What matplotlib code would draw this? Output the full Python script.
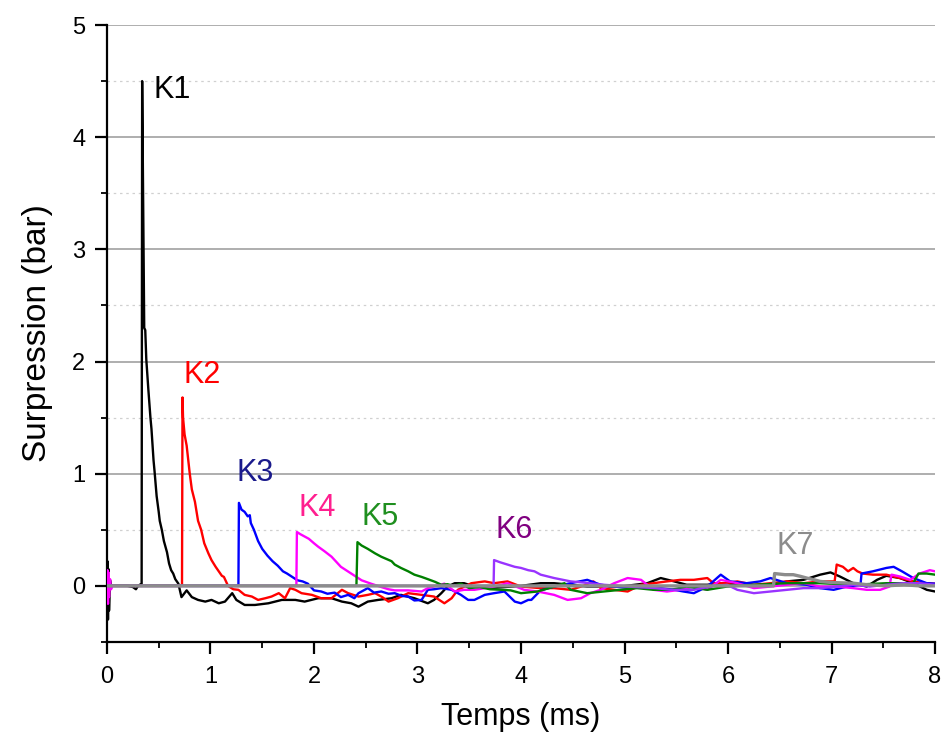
import matplotlib
matplotlib.use('Agg')
from matplotlib import pyplot as plt
from matplotlib.ticker import MultipleLocator

# (time ms, overpressure bar)
k1_pts = [(0, 0), (0.005, 0.22), (0.01, -0.3), (0.015, 0.15), (0.02, -0.22), (0.03, 0.05),
          (0.04, 0.0), (0.1, 0.0), (0.2, 0.0), (0.25, -0.01), (0.28, -0.03), (0.30, 0.0),
          (0.335, 0.02), (0.34, 4.5), (0.35, 3.4), (0.36, 2.3), (0.37, 2.28), (0.38, 2.02),
          (0.40, 1.75), (0.42, 1.5), (0.43, 1.4), (0.45, 1.12), (0.46, 1.02), (0.48, 0.8),
          (0.5, 0.66), (0.51, 0.58), (0.53, 0.5), (0.55, 0.4), (0.58, 0.3), (0.60, 0.2),
          (0.62, 0.14), (0.64, 0.11), (0.66, 0.06), (0.69, 0.02), (0.72, -0.1), (0.77, -0.04),
          (0.82, -0.1), (0.88, -0.125), (0.95, -0.14), (1.01, -0.125), (1.08, -0.155),
          (1.14, -0.14), (1.21, -0.065), (1.25, -0.125), (1.33, -0.17), (1.43, -0.17),
          (1.56, -0.155), (1.69, -0.125), (1.82, -0.125), (1.91, -0.14), (2.04, -0.11),
          (2.17, -0.11), (2.27, -0.14), (2.36, -0.155), (2.43, -0.185), (2.52, -0.14),
          (2.62, -0.125), (2.75, -0.11), (2.84, -0.08), (2.97, -0.11), (3.10, -0.155),
          (3.16, -0.125), (3.23, -0.065), (3.29, -0.006), (3.36, 0.024), (3.45, 0.024),
          (3.55, -0.006), (3.7, -0.02), (3.85, -0.01), (4.0, 0.0), (4.19, 0.024), (4.32, 0.024),
          (4.48, 0.01), (4.64, -0.006), (4.8, -0.006), (4.96, -0.006), (5.1, 0.01), (5.22, 0.024),
          (5.35, 0.07), (5.48, 0.04), (5.6, 0.01), (5.8, 0.01), (5.93, 0.024), (6.12, 0.01),
          (6.25, -0.006), (6.41, 0.01), (6.57, 0.04), (6.73, 0.054), (6.89, 0.1), (6.99, 0.12),
          (7.08, 0.084), (7.21, 0.024), (7.34, -0.006), (7.44, 0.054), (7.53, 0.09), (7.66, 0.07),
          (7.79, 0.024), (7.92, -0.035), (8.0, -0.05)]

k2_pts = [(0, 0), (0.725, 0), (0.73, 1.68), (0.735, 1.5), (0.75, 1.35), (0.77, 1.25), (0.80, 1.0),
          (0.82, 0.86), (0.85, 0.75), (0.88, 0.58), (0.91, 0.5), (0.94, 0.38), (0.98, 0.29),
          (1.01, 0.23), (1.05, 0.17), (1.08, 0.13), (1.11, 0.09), (1.13, 0.08), (1.17, 0.0),
          (1.22, -0.03), (1.27, -0.035), (1.33, -0.08), (1.40, -0.095), (1.46, -0.125),
          (1.53, -0.11), (1.59, -0.095), (1.66, -0.065), (1.72, -0.11), (1.77, -0.02),
          (1.82, -0.035), (1.88, -0.065), (1.98, -0.08), (2.07, -0.11), (2.17, -0.11),
          (2.27, -0.035), (2.33, -0.065), (2.43, -0.095), (2.52, -0.08), (2.59, -0.065),
          (2.66, -0.1), (2.72, -0.14), (2.81, -0.11), (2.91, -0.065), (3.04, -0.08),
          (3.16, -0.095), (3.26, -0.155), (3.33, -0.11), (3.39, -0.035), (3.52, 0.024),
          (3.65, 0.04), (3.74, 0.024), (3.87, 0.04), (4.0, -0.006), (4.19, -0.02), (4.32, -0.02),
          (4.48, -0.035), (4.6, 0.0), (4.7, 0.04), (4.77, -0.02), (4.9, -0.035), (5.03, -0.05),
          (5.16, 0.01), (5.28, 0.024), (5.41, 0.04), (5.54, 0.054), (5.67, 0.054), (5.8, 0.07),
          (5.86, 0.024), (5.99, 0.024), (6.09, 0.04), (6.25, 0.01), (6.41, 0.024), (6.57, 0.04),
          (6.73, 0.024), (6.89, 0.04), (7.03, 0.04), (7.05, 0.19), (7.11, 0.17), (7.16, 0.13),
          (7.21, 0.16), (7.25, 0.13), (7.3, 0.11), (7.4, 0.1), (7.53, 0.1), (7.66, 0.07),
          (7.79, 0.04), (7.89, 0.024), (8.0, 0.02)]

k3_pts = [(0, 0), (1.27, 0), (1.275, 0.74), (1.30, 0.68), (1.33, 0.66), (1.36, 0.62), (1.38, 0.63),
          (1.39, 0.56), (1.42, 0.50), (1.46, 0.40), (1.50, 0.33), (1.55, 0.27), (1.60, 0.22),
          (1.65, 0.18), (1.70, 0.13), (1.74, 0.11), (1.79, 0.08), (1.84, 0.05), (1.89, 0.04),
          (1.94, 0.02), (2.0, -0.04), (2.07, -0.05), (2.13, -0.07), (2.2, -0.06), (2.26, -0.1),
          (2.33, -0.08), (2.39, -0.11), (2.43, -0.065), (2.52, -0.02), (2.58, -0.06),
          (2.65, -0.05), (2.72, -0.07), (2.78, -0.065), (2.85, -0.09), (2.91, -0.095),
          (2.97, -0.13), (3.04, -0.125), (3.1, -0.035), (3.16, -0.03), (3.23, -0.02),
          (3.33, -0.035), (3.42, -0.08), (3.49, -0.125), (3.55, -0.125), (3.65, -0.08),
          (3.74, -0.065), (3.84, -0.05), (3.94, -0.14), (4.0, -0.155), (4.07, -0.125),
          (4.1, -0.125), (4.19, -0.04), (4.32, -0.006), (4.48, 0.024), (4.64, 0.054),
          (4.77, 0.01), (4.9, -0.006), (5.06, -0.02), (5.22, -0.006), (5.35, -0.02),
          (5.48, -0.035), (5.57, -0.05), (5.67, -0.065), (5.8, -0.006), (5.93, 0.1), (6.02, 0.04),
          (6.18, 0.024), (6.31, 0.04), (6.41, 0.07), (6.57, 0.024), (6.76, 0.01), (6.89, -0.02),
          (7.02, -0.035), (7.15, -0.006), (7.28, 0.01), (7.29, 0.11), (7.4, 0.13), (7.53, 0.16),
          (7.6, 0.17), (7.68, 0.13), (7.79, 0.07), (7.92, 0.024), (8.0, 0.02)]

k4_pts = [(0, 0), (0.005, 0.14), (0.01, -0.16), (0.015, 0.12), (0.02, -0.1), (0.03, 0.06),
          (0.04, -0.03), (0.05, 0), (1.83, 0), (1.835, 0.48), (1.87, 0.46), (1.91, 0.44),
          (1.95, 0.42), (2.0, 0.38), (2.04, 0.35), (2.1, 0.31), (2.17, 0.26), (2.22, 0.21),
          (2.26, 0.17), (2.31, 0.14), (2.36, 0.11), (2.41, 0.08), (2.46, 0.05), (2.55, 0.02),
          (2.65, -0.01), (2.72, -0.03), (2.78, -0.04), (2.91, -0.04), (3.04, -0.05),
          (3.10, -0.02), (3.18, 0.0), (3.26, 0.02), (3.36, -0.05), (3.45, -0.035),
          (3.55, -0.035), (3.65, -0.02), (3.74, -0.006), (3.87, 0.024), (4.03, -0.035),
          (4.16, -0.05), (4.32, -0.08), (4.45, -0.125), (4.58, -0.11), (4.67, -0.065),
          (4.77, -0.035), (4.9, 0.024), (5.03, 0.07), (5.16, 0.054), (5.28, -0.035),
          (5.41, -0.05), (5.54, -0.035), (5.67, -0.006), (5.8, -0.035), (5.93, 0.054),
          (6.09, 0.024), (6.25, -0.02), (6.41, -0.006), (6.57, 0.01), (6.73, 0.024),
          (6.89, -0.006), (7.05, -0.006), (7.21, -0.02), (7.34, -0.035), (7.47, -0.035),
          (7.56, -0.006), (7.58, 0.1), (7.66, 0.084), (7.76, 0.054), (7.85, 0.11), (7.95, 0.14),
          (8.0, 0.13)]

k5_pts = [(0, 0), (2.41, 0), (2.42, 0.39), (2.46, 0.36), (2.52, 0.33), (2.59, 0.29), (2.65, 0.26),
          (2.70, 0.24), (2.75, 0.22), (2.78, 0.19), (2.84, 0.16), (2.91, 0.13), (2.97, 0.1),
          (3.04, 0.08), (3.1, 0.06), (3.17, 0.036), (3.23, 0.01), (3.29, 0.015), (3.35, 0.0),
          (3.42, 0.02), (3.5, -0.02), (3.6, -0.01), (3.7, -0.03), (3.81, -0.035), (3.9, -0.04),
          (4.0, -0.065), (4.16, -0.05), (4.32, -0.006), (4.42, 0.024), (4.48, -0.035),
          (4.64, -0.065), (4.8, -0.05), (4.96, -0.035), (5.12, -0.02), (5.28, -0.035),
          (5.45, -0.035), (5.6, -0.006), (5.8, -0.035), (5.99, -0.006), (6.25, 0.01),
          (6.57, 0.024), (6.89, 0.024), (7.21, 0.01), (7.53, 0.024), (7.79, 0.024), (7.84, 0.11),
          (7.92, 0.11), (8.0, 0.1)]

k6_pts = [(0, 0), (3.735, 0), (3.74, 0.23), (3.8, 0.21), (3.87, 0.19), (3.94, 0.17), (4.0, 0.16),
          (4.07, 0.14), (4.13, 0.13), (4.19, 0.1), (4.32, 0.07), (4.48, 0.04), (4.6, 0.03),
          (4.7, 0.02), (4.8, 0.01), (4.96, 0.0), (5.1, -0.01), (5.3, -0.02), (5.45, -0.035),
          (5.67, -0.035), (5.86, 0.0), (5.99, 0.01), (6.09, -0.035), (6.25, -0.065),
          (6.41, -0.05), (6.57, -0.035), (6.73, -0.02), (6.89, -0.02), (7.05, -0.006),
          (7.21, 0.01), (7.37, -0.006), (7.53, 0.01), (7.69, 0.024), (7.85, 0.024), (8.0, 0.01)]

k7_pts = [(0, 0), (6.44, 0), (6.45, 0.11), (6.55, 0.1), (6.63, 0.1), (6.7, 0.085), (6.76, 0.07),
          (6.83, 0.055), (6.89, 0.04), (7.0, 0.03), (7.21, 0.024), (7.35, 0.01), (7.53, 0.0),
          (7.7, 0.01), (7.85, 0.0), (8.0, 0.0)]

names = ['K1', 'K2', 'K3', 'K4', 'K5', 'K6', 'K7']
series = [k1_pts, k2_pts, k3_pts, k4_pts, k5_pts, k6_pts, k7_pts]
line_colors = ['#000000', '#ff0000', '#0000ff', '#ff00ff', '#008000', '#9933ff', '#8c8c8c']
label_colors = ['#000000', '#ff0000', '#1a1a8c', '#ff1f8f', '#1f8f1f', '#800080', '#8c8c8c']
label_pos = [(0.45, 4.42), (0.74, 1.88), (1.25, 1.01), (1.85, 0.69), (2.46, 0.61),
             (3.75, 0.5), (6.47, 0.36)]

plt.rcParams['font.family'] = ['Liberation Sans', 'DejaVu Sans']

fig = plt.figure(figsize=(9.44, 7.42), dpi=100)
ax = fig.add_axes([0.1133, 0.1348, 0.8772, 0.8315])

for i, (pts, col) in enumerate(zip(series, line_colors)):
    t = [p[0] for p in pts]
    v = [p[1] for p in pts]
    lw = 2.4 if i == 6 else 1.7
    ax.plot(t, v, color=col, linewidth=lw, zorder=3 + i)

for name, col, (x, y) in zip(names, label_colors, label_pos):
    ax.text(x, y, name, color=col, fontsize=22, ha='left', va='center', zorder=20)

ax.set_xlim(0, 8)
ax.set_ylim(-0.5, 5)
ax.xaxis.set_major_locator(MultipleLocator(1))
ax.xaxis.set_minor_locator(MultipleLocator(0.5))
ax.yaxis.set_major_locator(MultipleLocator(1))
ax.yaxis.set_minor_locator(MultipleLocator(0.5))

ax.grid(axis='y', which='major', color='#a8a8a8', linewidth=1.3, zorder=0)
ax.grid(axis='y', which='minor', color='#d0d0d0', linewidth=0.9, linestyle=(0, (2, 3)), zorder=0)
ax.set_axisbelow(True)

for s in ['top', 'right']:
    ax.spines[s].set_visible(False)
for s in ['left', 'bottom']:
    ax.spines[s].set_linewidth(1.6)

ax.tick_params(which='major', direction='out', length=8.5, width=1.6, labelsize=17)
ax.tick_params(axis='x', which='major', pad=9)
ax.tick_params(axis='y', which='major', pad=7)
ax.tick_params(which='minor', direction='out', length=4.5, width=1.3)

ax.set_xlabel('Temps (ms)', fontsize=22, labelpad=10)
ax.set_ylabel('Surpression (bar)', fontsize=24, labelpad=14)

plt.savefig('out.png', dpi=100)
